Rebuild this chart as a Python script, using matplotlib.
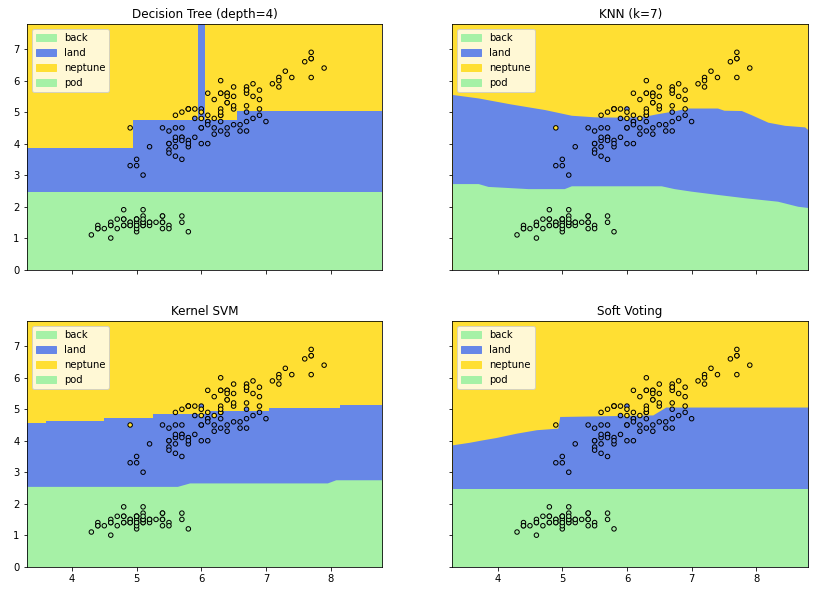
import numpy as np
import matplotlib
matplotlib.use('Agg')
import matplotlib.pyplot as plt
import matplotlib.patches as mpatches

# iris: sepal length (x) and petal length (y), 50 per class
sepal_len = [
    5.1, 4.9, 4.7, 4.6, 5.0, 5.4, 4.6, 5.0, 4.4, 4.9, 5.4, 4.8, 4.8, 4.3, 5.8, 5.7, 5.4, 5.1, 5.7, 5.1,
    5.4, 5.1, 4.6, 5.1, 4.8, 5.0, 5.0, 5.2, 5.2, 4.7, 4.8, 5.4, 5.2, 5.5, 4.9, 5.0, 5.5, 4.9, 4.4, 5.1,
    5.0, 4.5, 4.4, 5.0, 5.1, 4.8, 5.1, 4.6, 5.3, 5.0,
    7.0, 6.4, 6.9, 5.5, 6.5, 5.7, 6.3, 4.9, 6.6, 5.2, 5.0, 5.9, 6.0, 6.1, 5.6, 6.7, 5.6, 5.8, 6.2, 5.6,
    5.9, 6.1, 6.3, 6.1, 6.4, 6.6, 6.8, 6.7, 6.0, 5.7, 5.5, 5.5, 5.8, 6.0, 5.4, 6.0, 6.7, 6.3, 5.6, 5.5,
    5.5, 6.1, 5.8, 5.0, 5.6, 5.7, 5.7, 6.2, 5.1, 5.7,
    6.3, 5.8, 7.1, 6.3, 6.5, 7.6, 4.9, 7.3, 6.7, 7.2, 6.5, 6.4, 6.8, 5.7, 5.8, 6.4, 6.5, 7.7, 7.7, 6.0,
    6.9, 5.6, 7.7, 6.3, 6.7, 7.2, 6.2, 6.1, 6.4, 7.2, 7.4, 7.9, 6.4, 6.3, 6.1, 7.7, 6.3, 6.4, 6.0, 6.9,
    6.7, 6.9, 5.8, 6.8, 6.7, 6.7, 6.3, 6.5, 6.2, 5.9,
]
petal_len = [
    1.4, 1.4, 1.3, 1.5, 1.4, 1.7, 1.4, 1.5, 1.4, 1.5, 1.5, 1.6, 1.4, 1.1, 1.2, 1.5, 1.3, 1.4, 1.7, 1.5,
    1.7, 1.5, 1.0, 1.7, 1.9, 1.6, 1.6, 1.5, 1.4, 1.6, 1.6, 1.5, 1.5, 1.4, 1.5, 1.2, 1.3, 1.4, 1.3, 1.5,
    1.3, 1.3, 1.3, 1.6, 1.9, 1.4, 1.6, 1.4, 1.5, 1.4,
    4.7, 4.5, 4.9, 4.0, 4.6, 4.5, 4.7, 3.3, 4.6, 3.9, 3.5, 4.2, 4.0, 4.7, 3.6, 4.4, 4.5, 4.1, 4.5, 3.9,
    4.8, 4.0, 4.9, 4.7, 4.3, 4.4, 4.8, 5.0, 4.5, 3.5, 3.8, 3.7, 3.9, 5.1, 4.5, 4.5, 4.7, 4.4, 4.1, 4.0,
    4.4, 4.6, 4.0, 3.3, 4.2, 4.2, 4.2, 4.3, 3.0, 4.1,
    6.0, 5.1, 5.9, 5.6, 5.8, 6.6, 4.5, 6.3, 5.8, 6.1, 5.1, 5.3, 5.5, 5.0, 5.1, 5.3, 5.5, 6.7, 6.9, 5.0,
    5.7, 4.9, 6.7, 4.9, 5.7, 6.0, 4.8, 4.9, 5.6, 5.8, 6.1, 6.4, 5.6, 5.1, 5.6, 6.1, 5.6, 5.5, 4.8, 5.4,
    5.6, 5.1, 5.1, 5.9, 5.7, 5.2, 5.0, 5.2, 5.4, 5.1,
]
species = np.repeat([0, 1, 2], 50)

legend_labels = ['back', 'land', 'neptune', 'pod']
titles = ['Decision Tree (depth=4)', 'KNN (k=7)', 'Kernel SVM', 'Soft Voting']

# class region boundaries (petal length vs sepal length)
# upper = land/neptune border, lower = pod/land border
tree_up_x = [3.3, 4.95, 5.95, 6.05, 6.55, 8.8]
tree_up_y = [3.85, 4.75, 7.8, 4.75, 5.05, 5.05]
tree_low_x = [3.3, 8.8]
tree_low_y = [2.45, 2.45]

knn_up_x = [3.3, 3.7, 4.2, 4.73, 5.14, 5.5, 5.96, 6.27, 6.47, 6.73, 6.93, 7.4, 7.5, 7.77, 7.92, 8.18, 8.44, 8.75, 8.8]
knn_up_y = [5.56, 5.45, 5.26, 5.08, 4.90, 4.85, 4.84, 4.87, 4.95, 5.04, 5.13, 5.13, 5.06, 5.05, 4.92, 4.68, 4.58, 4.53, 4.44]
knn_low_x = [3.3, 3.7, 3.85, 4.47, 5.03, 5.14, 6.53, 6.73, 6.99, 7.3, 7.82, 8.33, 8.64, 8.8]
knn_low_y = [2.73, 2.73, 2.64, 2.57, 2.57, 2.66, 2.66, 2.57, 2.49, 2.41, 2.28, 2.17, 2.01, 1.97]

svm_up_x = [3.3, 3.6, 4.5, 5.25, 6.05, 7.05, 8.15, 8.8]
svm_up_y = [4.55, 4.64, 4.73, 4.84, 4.94, 5.05, 5.15, 5.15]
svm_low_x = [3.3, 5.63, 5.82, 7.95, 8.08, 8.8]
svm_low_y = [2.55, 2.55, 2.66, 2.66, 2.76, 2.76]

vote_up_x = [3.3, 3.56, 3.77, 3.97, 4.29, 4.6, 4.93, 4.96, 6.4, 6.6, 8.8]
vote_up_y = [3.87, 3.95, 4.03, 4.1, 4.24, 4.35, 4.40, 4.77, 4.82, 5.07, 5.07]
vote_low_x = [3.3, 8.8]
vote_low_y = [2.46, 2.46]

# (upper x, upper y, upper step, lower x, lower y, lower step)
panels = [
    (tree_up_x, tree_up_y, 'post', tree_low_x, tree_low_y, None),
    (knn_up_x, knn_up_y, None, knn_low_x, knn_low_y, None),
    (svm_up_x, svm_up_y, 'post', svm_low_x, svm_low_y, None),
    (vote_up_x, vote_up_y, None, vote_low_x, vote_low_y, None),
]

green = '#a6f1a6'
blue = '#6787e7'
gold = '#ffdf33'
class_colors = np.array([green, blue, gold])

x_min, x_max = 3.3, 8.8
y_min, y_max = 0, 7.8

fig, axarr = plt.subplots(2, 2, sharex='col', sharey='row', figsize=(827 / 72, 599 / 72), dpi=72)
fig.subplots_adjust(left=0.0323, right=0.977, bottom=0.054, top=0.960, wspace=0.197, hspace=0.21)

handles = [mpatches.Patch(color=c, label=l) for c, l in zip([green, blue, gold, green], legend_labels)]

for ax, title, (ux, uy, us, lx, ly, ls) in zip(axarr.flat, titles, panels):
    ax.fill_between([x_min, x_max], y_min, y_max, color=gold, lw=0)
    ax.fill_between(ux, y_min, uy, color=blue, lw=0, step=us)
    ax.fill_between(lx, y_min, ly, color=green, lw=0, step=ls)
    ax.scatter(sepal_len, petal_len, c=class_colors[species], s=20, edgecolor='k', zorder=3)
    ax.set_title(title)
    ax.legend(handles=handles, loc='upper left')
    ax.set_xlim(x_min, x_max)
    ax.set_ylim(y_min, y_max)

plt.savefig('out.png', dpi=72)
